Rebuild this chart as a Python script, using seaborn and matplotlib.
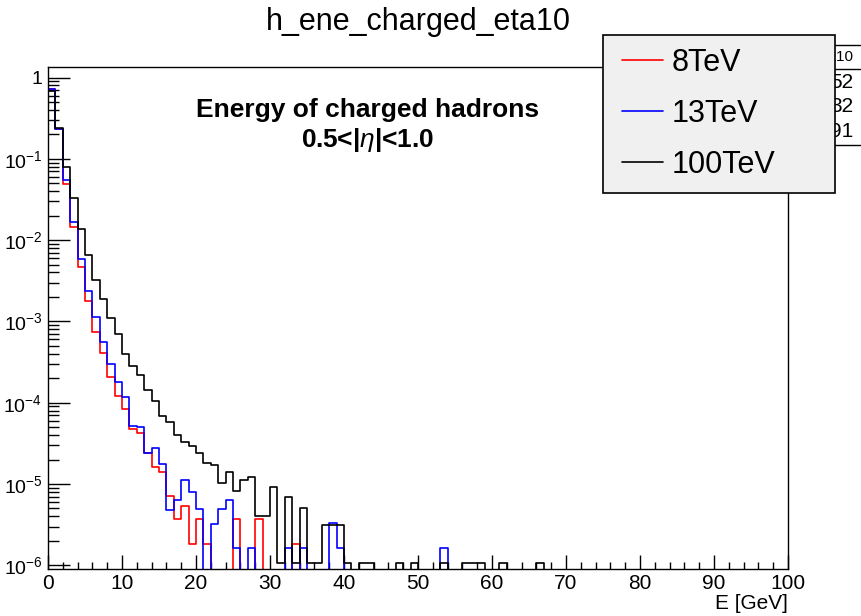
import numpy as np
import pandas as pd
import matplotlib.pyplot as plt
import seaborn as sns
from matplotlib.lines import Line2D
from matplotlib.patches import Rectangle
from matplotlib.ticker import LogLocator, NullFormatter

# 1 GeV bins from 0 to 100 GeV
edges = list(range(0, 101))

# normalised bin contents (bins 0..99)
ene_8tev = [
    0.72, 0.235, 0.049, 0.0144, 0.0047, 0.0018, 7.5e-4, 4.1e-4, 2.1e-4, 1.22e-4,
    8.4e-5, 4.8e-5, 4.3e-5, 2.4e-5, 1.63e-5, 1.42e-5, 7.1e-6, 3.7e-6, 5.4e-6, 1.83e-6,
    3.7e-6, 1.83e-6, 0, 0, 0, 3.7e-6, 0, 0, 3.7e-6, 0,
    0, 0, 0, 1.83e-6, 0, 0, 0, 0, 0, 0,
] + [0] * 60

ene_13tev = [
    0.72, 0.235, 0.055, 0.0168, 0.0058, 0.0024, 1.14e-3, 5.6e-4, 3.0e-4, 1.78e-4,
    1.19e-4, 5.1e-5, 5.0e-5, 2.4e-5, 2.75e-5, 1.76e-5, 4.8e-6, 6.4e-6, 1.12e-5, 8.0e-6,
    4.9e-6, 0, 3.2e-6, 4.9e-6, 6.4e-6, 1.63e-6, 0, 1.63e-6, 0, 0,
    0, 0, 1.63e-6, 0, 1.63e-6, 0, 0, 0, 3.3e-6, 1.63e-6,
    0, 0, 0, 0, 0, 0, 0, 0, 0, 0,
    0, 0, 0, 1.63e-6, 0, 0, 0, 0, 0, 0,
] + [0] * 40

ene_100tev = [
    0.68, 0.24, 0.080, 0.0327, 0.0136, 0.0066, 0.0032, 1.87e-3, 1.09e-3, 7.1e-4,
    4.0e-4, 2.8e-4, 2.2e-4, 1.43e-4, 1.05e-4, 6.9e-5, 5.8e-5, 4.0e-5, 3.3e-5, 2.9e-5,
    2.4e-5, 1.8e-5, 1.7e-5, 1.02e-5, 1.4e-5, 8.2e-6, 1.12e-5, 1.21e-5, 4.1e-6, 4.1e-6,
    9.1e-6, 1.07e-6, 7.0e-6, 1.07e-6, 5.0e-6, 1.07e-6, 1.07e-6, 3.1e-6, 3.1e-6, 3.1e-6,
    1.07e-6, 0, 1.07e-6, 1.07e-6, 0, 0, 0, 1.07e-6, 0, 1.07e-6,
    0, 0, 0, 1.07e-6, 0, 0, 1.07e-6, 1.07e-6, 1.07e-6, 0,
    0, 1.07e-6, 0, 0, 0, 0, 1.07e-6, 0, 0, 0,
] + [0] * 30

labels = ["8TeV", "13TeV", "100TeV"]
colors = ["#ff0000", "#0000ff", "#000000"]

xticks = [0, 10, 20, 30, 40, 50, 60, 70, 80, 90, 100]
yticks = [1, 1e-1, 1e-2, 1e-3, 1e-4, 1e-5, 1e-6]
ytick_labels = ["1", "$10^{-1}$", "$10^{-2}$", "$10^{-3}$", "$10^{-4}$", "$10^{-5}$", "$10^{-6}$"]
stat_values = ["52", "32", "91"]

W, H = 861, 616


def fx(px):
    return px / W


def fy(py):
    return 1 - py / H


def main():
    sns.set_style("white")
    plt.rcParams["font.family"] = ["Liberation Sans", "DejaVu Sans"]
    plt.rcParams["mathtext.fontset"] = "custom"
    plt.rcParams["mathtext.rm"] = "Liberation Sans"
    plt.rcParams["mathtext.it"] = "Liberation Sans:italic"
    plt.rcParams["mathtext.bf"] = "Liberation Sans:bold"
    for key in ["text.color", "axes.labelcolor", "xtick.color", "ytick.color"]:
        plt.rcParams[key] = "black"

    fig = plt.figure(figsize=(W / 100, H / 100), dpi=100)
    ax = fig.add_axes([fx(48), fy(568.5), (788 - 48) / W, (568.5 - 66.7) / H])

    centers = [e + 0.5 for e in edges[:-1]]
    # red first, black last so black ends on top as in the original
    for vals, lab, col in zip([ene_8tev, ene_13tev, ene_100tev], labels, colors):
        df = pd.DataFrame({"E": centers, "w": vals})
        sns.histplot(data=df, x="E", weights="w", bins=edges, element="step",
                     fill=False, color=col, linewidth=1.2,
                     log_scale=(False, True), ax=ax)
    # empty bins drop to the bottom of the frame, like ROOT does
    ax.set_yscale("log", nonpositive="clip")

    ax.set_xlim(0, 100)
    ax.set_ylim(9.14e-7, 1.358)
    ax.set_ylabel("")
    ax.set_xlabel("E [GeV]", loc="right", fontsize=15, labelpad=1)

    ax.set_xticks(xticks)
    ax.set_xticks(np.arange(0, 101, 2), minor=True)
    ax.set_yticks(yticks, ytick_labels)
    ax.yaxis.set_minor_locator(LogLocator(base=10, subs=np.arange(2, 10)))
    ax.yaxis.set_minor_formatter(NullFormatter())

    ax.tick_params(axis="x", which="major", direction="in", length=10, width=1,
                   labelsize=15, pad=4, bottom=True, top=False)
    ax.tick_params(axis="x", which="minor", direction="in", length=5, width=1,
                   bottom=True, top=False)
    ax.tick_params(axis="y", which="major", direction="in", length=16, width=1,
                   labelsize=14, pad=4, left=True, right=False)
    ax.tick_params(axis="y", which="minor", direction="in", length=8, width=1,
                   left=True, right=False)
    for sp in ax.spines.values():
        sp.set_color("black")
        sp.set_linewidth(1)

    fig.text(fx(418), fy(22), "h_ene_charged_eta10", ha="center", va="center", fontsize=22)
    fig.text(fx(368), fy(110), "Energy of charged hadrons", ha="center", va="center",
             fontsize=19, fontweight="bold")
    fig.text(fx(368), fy(140), "0.5<|$\\mathit{\\eta}$|<1.0", ha="center", va="center",
             fontsize=19, fontweight="bold")

    # stats box, mostly hidden behind the legend
    fig.add_artist(Rectangle((fx(680), fy(145)), fx(880 - 680), 100 / H,
                             transform=fig.transFigure, facecolor="white",
                             edgecolor="black", linewidth=1, zorder=4))
    fig.add_artist(Line2D([fx(680), fx(880)], [fy(69.3), fy(69.3)],
                          transform=fig.transFigure, color="black", linewidth=1, zorder=4))
    fig.text(fx(853), fy(57), "h_ene_charged_eta10", ha="right", va="center",
             fontsize=11, zorder=4)
    for val, py in zip(stat_values, [83, 107, 131.7]):
        fig.text(fx(853), fy(py), val, ha="right", va="center", fontsize=15, zorder=4)

    # legend
    fig.add_artist(Rectangle((fx(602.7), fy(192.7)), fx(835 - 602.7), (192.7 - 35) / H,
                             transform=fig.transFigure, facecolor="#f0f0f0",
                             edgecolor="black", linewidth=1.2, zorder=5))
    handles = [Line2D([], [], color=c, linewidth=1.2) for c in colors]
    leg = fig.legend(handles, labels, loc="center left", frameon=False, fontsize=22,
                     bbox_to_anchor=(fx(607), fy(114)), bbox_transform=fig.transFigure,
                     handlelength=1.34, handletextpad=0.26, labelspacing=0.69,
                     borderpad=0)
    leg.set_zorder(6)

    fig.savefig("out.png", dpi=100)
    plt.close(fig)


if __name__ == "__main__":
    main()
